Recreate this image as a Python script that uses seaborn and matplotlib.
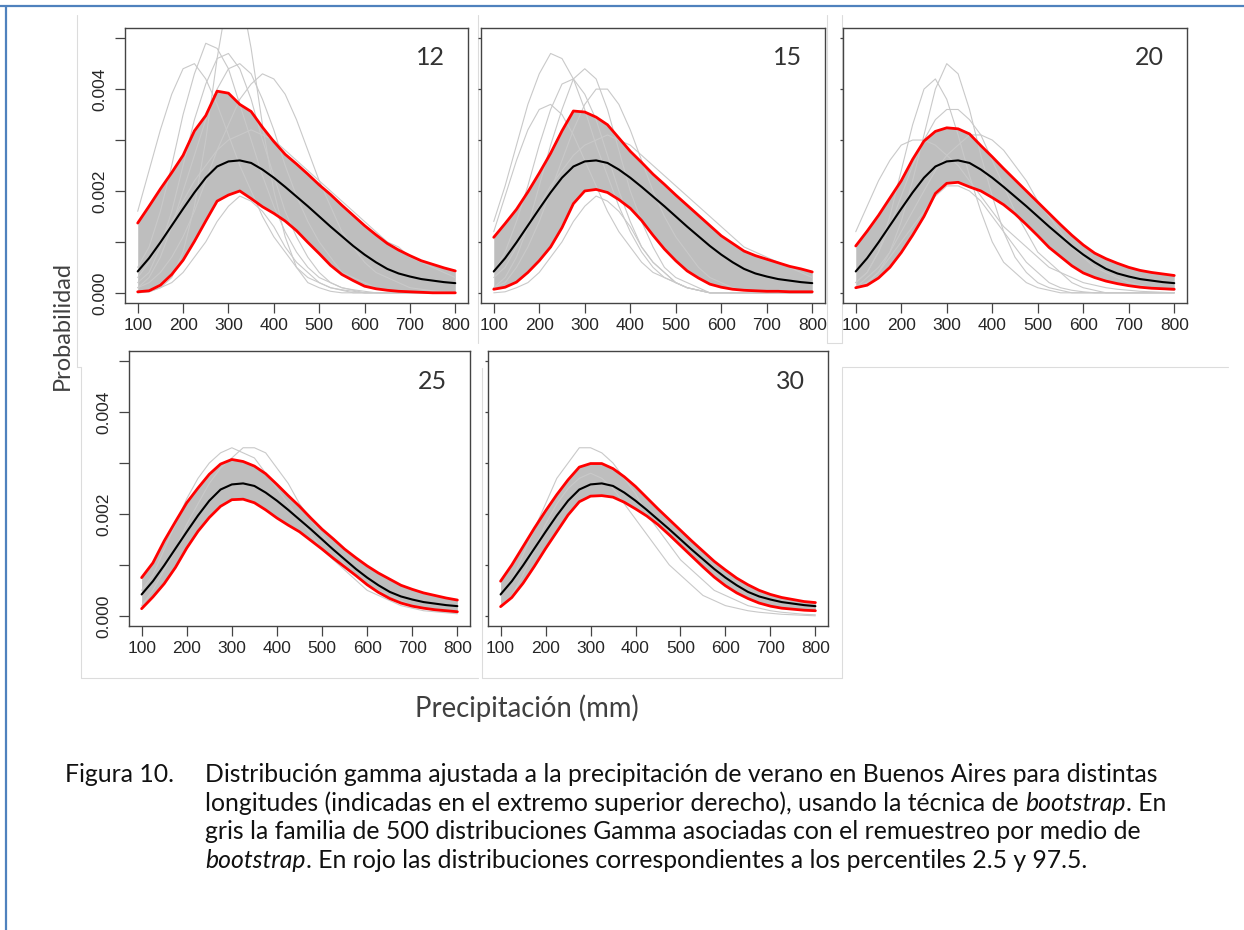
import matplotlib
matplotlib.use("Agg")
import matplotlib.pyplot as plt
import seaborn as sns

# ---- datos ----
x_fino = list(range(100, 801, 25))
xticks = [100, 200, 300, 400, 500, 600, 700, 800]
yticks = [0.0, 0.001, 0.002, 0.003, 0.004, 0.005]
ylabels = ["0.000", "", "0.002", "", "0.004", ""]

# curva media (negra), igual en todos los paneles
media = [.00042, .00068, .00099, .00132, .00165, .00197, .00226, .00248, .00258, .00260,
         .00255, .00242, .00226, .00208, .00189, .00170, .00150, .00130, .00111, .00092,
         .00075, .00060, .00047, .00038, .00032, .00027, .00024, .00021, .00019]

# percentiles 97.5 (sup) y 2.5 (inf)
sup_12 = [.00137, .00170, .00204, .00236, .00270, .00318, .00348, .00396, .00392, .00370,
          .00356, .00325, .00297, .00272, .00253, .00233, .00212, .00193, .00172, .00152,
          .00132, .00114, .00097, .00084, .00073, .00063, .00056, .00049, .00043]
inf_12 = [.00002, .00004, .00015, .00036, .00064, .00101, .00141, .00180, .00192, .00200,
          .00185, .00169, .00156, .00141, .00122, .00099, .00077, .00054, .00036, .00024,
          .00013, .00008, .00005, .00003, .00002, .00001, .0, .0, .0]
sup_15 = [.00109, .00136, .00164, .00198, .00235, .00274, .00318, .00357, .00355, .00345,
          .00330, .00304, .00278, .00256, .00233, .00213, .00192, .00172, .00152, .00132,
          .00112, .00097, .00082, .00073, .00066, .00059, .00052, .00047, .00041]
inf_15 = [.00007, .00011, .00021, .00040, .00063, .00090, .00128, .00175, .00200, .00203,
          .00197, .00183, .00166, .00142, .00113, .00086, .00063, .00043, .00029, .00017,
          .00011, .00007, .00005, .00004, .00003, .00003, .00002, .00002, .00002]
sup_20 = [.00092, .00121, .00152, .00186, .00220, .00262, .00298, .00317, .00324, .00322,
          .00312, .00289, .00267, .00244, .00222, .00200, .00178, .00156, .00134, .00113,
          .00094, .00078, .00067, .00058, .00050, .00044, .00040, .00037, .00034]
inf_20 = [.00010, .00015, .00029, .00050, .00079, .00113, .00150, .00195, .00215, .00217,
          .00208, .00200, .00187, .00173, .00155, .00134, .00112, .00089, .00071, .00053,
          .00039, .00030, .00023, .00018, .00014, .00011, .00009, .00008, .00007]
sup_25 = [.00075, .00104, .00147, .00185, .00222, .00251, .00278, .00298, .00307, .00303,
          .00294, .00279, .00258, .00236, .00215, .00192, .00170, .00151, .00131, .00114,
          .00098, .00084, .00072, .00060, .00052, .00045, .00040, .00035, .00031]
inf_25 = [.00014, .00037, .00063, .00095, .00133, .00166, .00193, .00215, .00228, .00229,
          .00222, .00208, .00192, .00178, .00165, .00148, .00131, .00113, .00096, .00079,
          .00061, .00046, .00034, .00025, .00019, .00015, .00012, .00010, .00008]
sup_30 = [.00068, .00100, .00136, .00172, .00206, .00238, .00267, .00292, .00299, .00299,
          .00289, .00273, .00254, .00232, .00210, .00189, .00168, .00147, .00127, .00107,
          .00090, .00074, .00061, .00050, .00042, .00036, .00032, .00028, .00026]
inf_30 = [.00018, .00036, .00064, .00097, .00132, .00165, .00198, .00224, .00235, .00236,
          .00233, .00223, .00210, .00196, .00179, .00159, .00138, .00117, .00096, .00076,
          .00059, .00045, .00034, .00025, .00019, .00015, .00013, .00011, .00010]

# algunas curvas bootstrap extremas (gris claro), en x_fino
extremos_12 = [
    [.0005, .0009, .0016, .0025, .0035, .0043, .0049, .0048, .0044, .0037, .0030, .0023, .0017, .0012,
     .0008, .0005, .0003, .0002, .0001, .00006, .00003, 0, 0, 0, 0, 0, 0, 0, 0],
    [.0016, .0024, .0032, .0039, .0044, .0045, .0042, .0037, .0031, .0025, .0020, .0015, .0011, .0008,
     .0005, .0003, .0002, .0001, .00006, .00003, 0, 0, 0, 0, 0, 0, 0, 0, 0],
    [0, .00002, .0001, .0003, .0008, .0017, .0030, .0046, .0059, .0060, .0048, .0033, .0020, .0011,
     .0005, .0002, .0001, .00003, 0, 0, 0, 0, 0, 0, 0, 0, 0, 0, 0],
    [.0001, .0002, .0004, .0007, .0011, .0016, .0022, .0028, .0033, .0038, .0041, .0043, .0042, .0039,
     .0034, .0028, .0022, .0017, .0012, .0009, .0006, .0004, .0003, .0002, .0001, .00007, .00004, .00002, .00001],
    [.0001, .0003, .0007, .0013, .0020, .0027, .0034, .0040, .0044, .0045, .0043, .0038, .0032, .0025,
     .0019, .0014, .0010, .0007, .0004, .0003, .0002, .0001, .00005, 0, 0, 0, 0, 0, 0],
    [0, .00002, .0001, .0002, .0004, .0007, .0010, .0014, .0017, .0019, .0018, .0016, .0013, .0009,
     .0006, .0004, .0002, .0001, .00005, 0, 0, 0, 0, 0, 0, 0, 0, 0, 0],
    [.0003, .0006, .0010, .0014, .0018, .0022, .0025, .0028, .0030, .0031, .0032, .0031, .0030, .0028,
     .0026, .0024, .0022, .0020, .0018, .0016, .0014, .0012, .0010, .0009, .0007, .0006, .0005, .0004, .0003],
    [.0002, .0004, .0009, .0016, .0025, .0034, .0041, .0046, .0047, .0044, .0038, .0030, .0023, .0016,
     .0011, .0007, .0004, .0002, .0001, .00005, 0, 0, 0, 0, 0, 0, 0, 0, 0],
]
extremos_15 = [
    [.0014, .0021, .0029, .0037, .0043, .0047, .0046, .0042, .0036, .0029, .0023, .0017, .0012, .0008,
     .0005, .0003, .0002, .0001, .00005, 0, 0, 0, 0, 0, 0, 0, 0, 0, 0],
    [.0001, .0003, .0007, .0013, .0021, .0029, .0036, .0042, .0044, .0042, .0036, .0028, .0020, .0014,
     .0009, .0005, .0003, .0002, .0001, 0, 0, 0, 0, 0, 0, 0, 0, 0, 0],
    [.0004, .0008, .0014, .0021, .0029, .0036, .0041, .0042, .0039, .0034, .0027, .0020, .0014, .0009,
     .0006, .0004, .0002, .0001, .00005, 0, 0, 0, 0, 0, 0, 0, 0, 0, 0],
    [.0001, .0002, .0005, .0009, .0014, .0020, .0026, .0032, .0037, .0040, .0040, .0037, .0032, .0026,
     .0020, .0015, .0011, .0008, .0005, .0003, .0002, .0001, .00005, 0, 0, 0, 0, 0, 0],
    [.0012, .0019, .0026, .0032, .0036, .0037, .0035, .0031, .0026, .0021, .0016, .0012, .0009, .0006,
     .0004, .0003, .0002, .0001, .00005, 0, 0, 0, 0, 0, 0, 0, 0, 0, 0],
    [0, .00002, .0001, .0002, .0004, .0007, .0010, .0014, .0017, .0019, .0018, .0016, .0013, .0009,
     .0006, .0004, .0002, .0001, .00005, 0, 0, 0, 0, 0, 0, 0, 0, 0, 0],
    [.0003, .0005, .0009, .0013, .0017, .0021, .0024, .0027, .0029, .0030, .0031, .0030, .0029, .0027,
     .0025, .0023, .0021, .0019, .0017, .0015, .0013, .0011, .0009, .0008, .0007, .0006, .0005, .0004, .0003],
]
extremos_20 = [
    [.0001, .0002, .0004, .0008, .0014, .0022, .0031, .0040, .0045, .0043, .0036, .0027, .0019, .0012,
     .0007, .0004, .0002, .0001, .00005, 0, 0, 0, 0, 0, 0, 0, 0, 0, 0],
    [.0002, .0004, .0008, .0015, .0024, .0033, .0040, .0042, .0038, .0031, .0023, .0016, .0010, .0006,
     .0004, .0002, .0001, .00005, 0, 0, 0, 0, 0, 0, 0, 0, 0, 0, 0],
    [.0002, .0004, .0008, .0013, .0019, .0025, .0030, .0034, .0036, .0036, .0034, .0031, .0026, .0021,
     .0016, .0012, .0008, .0006, .0004, .0002, .0001, .00005, 0, 0, 0, 0, 0, 0, 0],
    [.0012, .0017, .0022, .0026, .0029, .0030, .0030, .0029, .0027, .0025, .0022, .0019, .0016, .0013,
     .0011, .0009, .0007, .0005, .0004, .0003, .0002, .00015, .0001, .00007, .00005, .00003, .00002, .00001, 0],
    [.0001, .0003, .0005, .0008, .0012, .0016, .0020, .0024, .0027, .0029, .0031, .0031, .0030, .0028,
     .0025, .0022, .0018, .0015, .0012, .0009, .0007, .0005, .0004, .0003, .0002, .00015, .0001, .00007, .00005],
    [.0001, .0002, .0004, .0007, .0010, .0013, .0016, .0019, .0021, .0021, .0020, .0018, .0015, .0012,
     .0009, .0006, .0004, .0002, .0001, .00005, .00002, 0, 0, 0, 0, 0, 0, 0, 0],
]
extremos_25 = [
    [.0005, .0008, .0013, .0018, .0023, .0027, .0030, .0032, .0033, .0032, .0031, .0028, .0025, .0022,
     .0019, .0016, .0013, .0011, .0009, .0007, .0005, .0004, .0003, .0002, .00015, .0001, .00008, .00006, .00004],
    [.0002, .0005, .0009, .0013, .0018, .0022, .0026, .0029, .0031, .0033, .0033, .0032, .0029, .0026,
     .0022, .0019, .0016, .0013, .0010, .0008, .0006, .0005, .0004, .0003, .0002, .00015, .0001, .00008, .00006],
]
extremos_30 = [
    [.0004, .0007, .0012, .0017, .0022, .0027, .0030, .0033, .0033, .0032, .0030, .0027, .0024, .0020,
     .0017, .0014, .0011, .0009, .0007, .0005, .0004, .0003, .0002, .00015, .0001, .00007, .00005, .00003, .00002],
    [.0002, .0004, .0008, .0013, .0018, .0022, .0025, .0027, .0028, .0027, .0025, .0022, .0019, .0016,
     .0013, .0010, .0008, .0006, .0004, .0003, .0002, .00015, .0001, .00007, .00005, .00003, .00002, .00001, 0],
]

paneles = [
    ("12", sup_12, inf_12, extremos_12),
    ("15", sup_15, inf_15, extremos_15),
    ("20", sup_20, inf_20, extremos_20),
    ("25", sup_25, inf_25, extremos_25),
    ("30", sup_30, inf_30, extremos_30),
]

# ---- maquetación (píxeles de la imagen) ----
W, H = 1244, 930
cajas = {"12": (125, 28, 468, 303), "15": (481, 28, 825, 303), "20": (843, 28, 1187, 303),
         "25": (129, 351, 470, 626), "30": (488, 351, 828, 626)}
con_etiquetas_y = {"12", "25"}

sns.set_style("ticks")
plt.rcParams["font.family"] = ["Liberation Sans", "DejaVu Sans"]

fig = plt.figure(figsize=(W / 100, H / 100), dpi=100)
bg = fig.add_axes([0, 0, 1, 1], zorder=-5)
bg.set_xlim(0, W)
bg.set_ylim(H, 0)
bg.axis("off")

# marco azul del documento
bg.plot([0, W], [6, 6], color="#4F81BD", lw=1.6, solid_capstyle="butt")
bg.plot([6, 6], [6, H], color="#4F81BD", lw=1.6, solid_capstyle="butt")

# bordes tenues de las imágenes pegadas
borde = dict(color="#DCDCDC", lw=0.8)
bg.plot([77, 77, 81, 81, 478], [15, 367, 367, 678, 678], **borde)
bg.plot([478, 478], [15, 343], **borde)
bg.plot([482, 482, 842, 842], [368, 678, 678, 368], **borde)
bg.plot([827, 827, 842, 842], [15, 343, 343, 15], **borde)
bg.plot([842, 1228], [367, 367], **borde)

for nombre, sup, inf, extremos in paneles:
    x0, y0, x1, y1 = cajas[nombre]
    ax = fig.add_axes([x0 / W, 1 - y1 / H, (x1 - x0) / W, (y1 - y0) / H])
    ax.fill_between(x_fino, inf, sup, color="#BEBEBE", lw=0)
    for curva in extremos:
        sns.lineplot(x=x_fino, y=curva, ax=ax, color="#C9C9C9", lw=0.8, estimator=None)
    sns.lineplot(x=x_fino, y=sup, ax=ax, color="#FF0000", lw=2.0, estimator=None)
    sns.lineplot(x=x_fino, y=inf, ax=ax, color="#FF0000", lw=2.0, estimator=None)
    sns.lineplot(x=x_fino, y=media, ax=ax, color="black", lw=1.5, estimator=None)
    ax.set_xlim(72, 828)
    ax.set_ylim(-0.0002, 0.0052)
    ax.set_xticks(xticks)
    ax.set_xticklabels([str(v) for v in xticks])
    ax.set_yticks(yticks)
    ax.set_xlabel("")
    ax.set_ylabel("")
    for s in ax.spines.values():
        s.set_visible(True)
        s.set_color("#444444")
        s.set_linewidth(1.0)
    ax.tick_params(axis="x", direction="out", length=7, width=0.9, color="#444444",
                   labelsize=12.5, labelcolor="#262626", pad=4)
    if nombre in con_etiquetas_y:
        ax.set_yticklabels(ylabels, rotation=90, va="center")
        ax.tick_params(axis="y", direction="out", length=7, width=0.9, color="#444444",
                       labelsize=12.5, labelcolor="#262626", pad=6)
    else:
        ax.set_yticklabels([])
        ax.tick_params(axis="y", direction="out", length=2.5, width=0.9, color="#444444")
    ax.text(1 - 23 / (x1 - x0), 1 - 30 / (y1 - y0), nombre, transform=ax.transAxes,
            ha="right", va="center", fontsize=18, family="Lato", color="#333333")

bg.text(62, 325, "Probabilidad", rotation=90, ha="center", va="center",
        fontsize=17, family="Lato", color="#404040")
bg.text(527, 708, "Precipitación (mm)", ha="center", va="center",
        fontsize=19.8, family="Lato", color="#404040")

# ---- pie de figura ----
renderer = fig.canvas.get_renderer()


def linea(x, y, trozos, size=17.8):
    for texto, estilo in trozos:
        t = bg.text(x, y, texto, ha="left", va="baseline", fontsize=size,
                    family="Lato", style=estilo, color="#111111")
        x += t.get_window_extent(renderer).width


linea(65, 782, [("Figura 10.", "normal")])
linea(205, 782, [("Distribución gamma ajustada a la precipitación de verano en Buenos Aires para distintas", "normal")])
linea(205, 811, [("longitudes (indicadas en el extremo superior derecho), usando la técnica de ", "normal"),
                 ("bootstrap", "italic"), (". En", "normal")])
linea(205, 839, [("gris la familia de 500 distribuciones Gamma asociadas con el remuestreo por medio de", "normal")])
linea(205, 868, [("bootstrap", "italic"),
                 (". En rojo las distribuciones correspondientes a los percentiles 2.5 y 97.5.", "normal")])

fig.savefig("out.png", dpi=100)
